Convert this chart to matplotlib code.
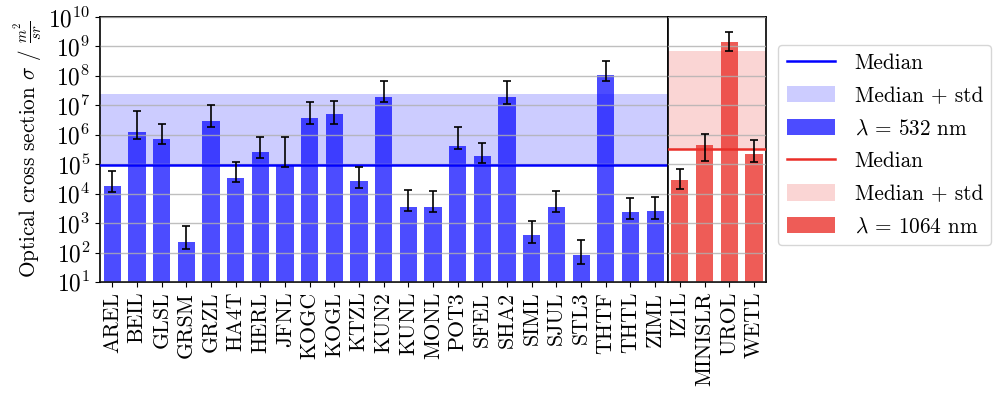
import numpy as np
import matplotlib
matplotlib.use('Agg')
import matplotlib.pyplot as plt
from matplotlib.lines import Line2D
from matplotlib.patches import Patch

plt.rcParams['font.family'] = 'serif'
plt.rcParams['font.serif'] = ['cmr10', 'DejaVu Serif']
plt.rcParams['mathtext.fontset'] = 'cm'
plt.rcParams['axes.formatter.use_mathtext'] = True
plt.rcParams['font.size'] = 15.3
plt.rcParams['ytick.labelsize'] = 16.8
plt.rcParams['xtick.labelsize'] = 15.8

# stations, 532 nm
names_532 = ['AREL', 'BEIL', 'GLSL', 'GRSM', 'GRZL', 'HA4T', 'HERL', 'JFNL', 'KOGC',
             'KOGL', 'KTZL', 'KUN2', 'KUNL', 'MONL', 'POT3', 'SFEL', 'SHA2', 'SIML',
             'SJUL', 'STL3', 'THTF', 'THTL', 'ZIML']
sigma_532 = [1.8e4, 1.2e6, 7.4e5, 2.3e2, 3.0e6, 3.4e4, 2.7e5, 9.3e4, 3.8e6,
             5.0e6, 2.6e4, 1.95e7, 3.6e3, 3.6e3, 4.2e5, 1.9e5, 1.95e7, 4.0e2,
             3.5e3, 8.0e1, 1.07e8, 2.3e3, 2.5e3]
low_532 = [1.1e4, 7.0e5, 4.7e5, 1.3e2, 1.9e6, 2.4e4, 1.6e5, 8.1e4, 2.3e6,
           2.4e6, 1.6e4, 1.3e7, 2.5e3, 2.3e3, 3.2e5, 1.1e5, 1.15e7, 2.1e2,
           2.3e3, 4.2e1, 6.5e7, 1.4e3, 1.35e3]
high_532 = [5.8e4, 6.5e6, 2.4e6, 7.8e2, 1.05e7, 1.15e5, 8.7e5, 8.5e5, 1.26e7,
            1.4e7, 8.1e4, 6.7e7, 1.3e4, 1.2e4, 1.85e6, 5.3e5, 6.6e7, 1.2e3,
            1.2e4, 2.6e2, 3.2e8, 7.1e3, 7.6e3]
std_532 = 2.4e7

# stations, 1064 nm
names_1064 = ['IZ1L', 'MINISLR', 'UROL', 'WETL']
sigma_1064 = [2.8e4, 4.4e5, 1.4e9, 2.2e5]
low_1064 = [1.4e4, 1.26e5, 6.8e8, 1.2e5]
high_1064 = [7.0e4, 1.07e6, 3.1e9, 6.5e5]
std_1064 = 7.1e8

blue = 'blue'
red = '#ea2e28'

fig = plt.figure(figsize=(9.99, 3.96), dpi=100)
gs = fig.add_gridspec(1, 2, width_ratios=[len(names_532), len(names_1064)],
                      left=0.100, right=0.767, top=0.957, bottom=0.288, wspace=0)
ax1 = fig.add_subplot(gs[0])
ax2 = fig.add_subplot(gs[1], sharey=ax1)


def draw(ax, names, vals, lo, hi, std, col, bar_alpha):
    vals = np.array(vals)
    x = np.arange(len(names))
    err = np.array([vals - np.array(lo), np.array(hi) - vals])
    med = np.median(vals)
    ax.axhspan(med, med + std, color=col, alpha=0.2, lw=0, zorder=0)
    ax.bar(x, vals, width=0.7, color=col, alpha=bar_alpha, zorder=1)
    ax.errorbar(x, vals, yerr=err, fmt='none', ecolor='black', elinewidth=1.2,
                capsize=3, capthick=1.2, zorder=4)
    ax.axhline(med, color=col, lw=1.8, zorder=3)
    ax.set_xticks(x)
    ax.set_xticklabels(names, rotation=90)
    ax.set_xlim(-0.5, len(names) - 0.5)
    ax.grid(axis='y', color='#b0b0b0', lw=1.0, alpha=0.8, zorder=2)
    ax.set_axisbelow(False)
    return med


draw(ax1, names_532, sigma_532, low_532, high_532, std_532, blue, 0.7)
draw(ax2, names_1064, sigma_1064, low_1064, high_1064, std_1064, red, 0.78)

ax1.set_yscale('log')
ax1.set_ylim(1e1, 1e10)
ax1.set_yticks([10.0 ** k for k in range(1, 11)])
ax1.minorticks_off()
ax2.tick_params(axis='y', left=False, labelleft=False)
ax2.minorticks_off()
ax1.set_ylabel(r'Optical cross section $\sigma$ / $\frac{m^2}{sr}$', labelpad=2)
for ax in (ax1, ax2):
    for s in ax.spines.values():
        s.set_linewidth(1.2)

handles = [Line2D([], [], color=blue, lw=1.8),
           Patch(color=blue, alpha=0.2, lw=0),
           Patch(color=blue, alpha=0.7, lw=0),
           Line2D([], [], color=red, lw=1.8),
           Patch(color=red, alpha=0.2, lw=0),
           Patch(color=red, alpha=0.78, lw=0)]
labels = ['Median', 'Median + std', r'$\lambda$ = 532 nm',
          'Median', 'Median + std', r'$\lambda$ = 1064 nm']
fig.legend(handles, labels, loc='upper left', bbox_to_anchor=(0.7788, 0.8864),
           bbox_transform=fig.transFigure, borderaxespad=0, handlelength=2.3,
           handleheight=0.8, handletextpad=0.9, labelspacing=0.62, borderpad=0.4,
           framealpha=0.8)

fig.savefig('out.png', dpi=100)
